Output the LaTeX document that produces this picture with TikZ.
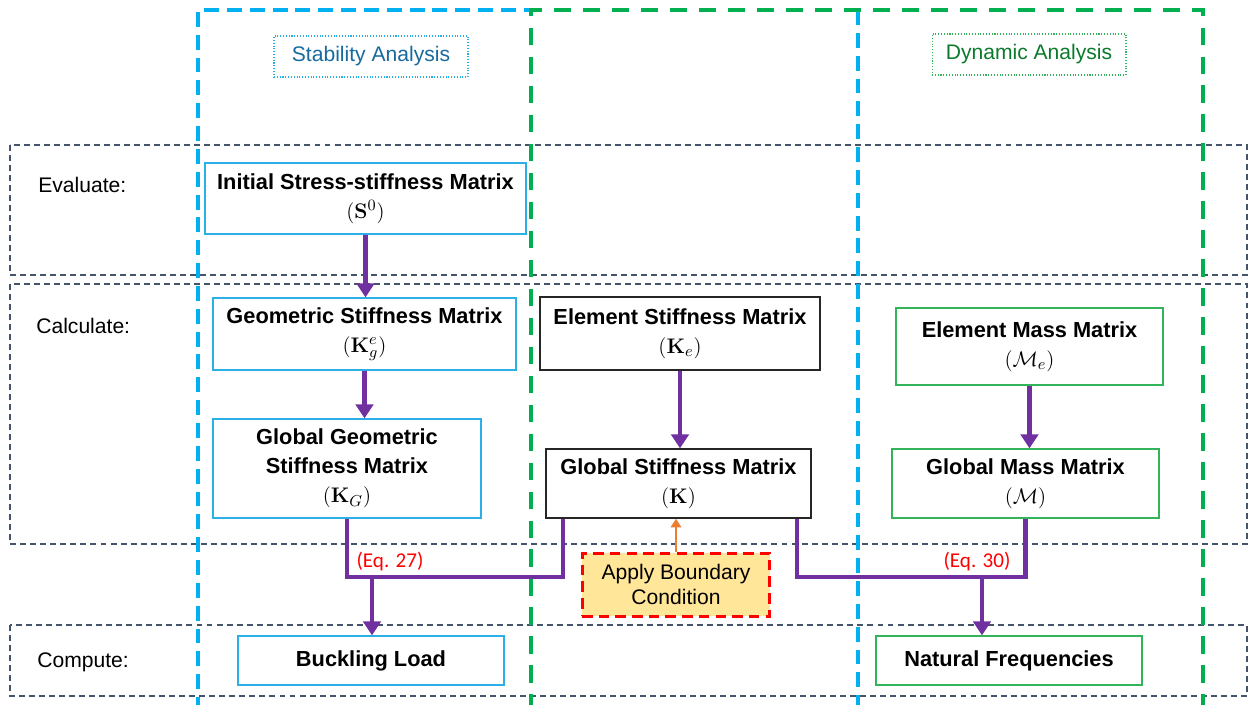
\documentclass[tikz,border=0pt]{standalone}
\usepackage[no-math]{fontspec}
\setmainfont{Liberation Sans}
\newfontfamily\eqfont{Carlito}
\usetikzlibrary{arrows.meta,calc}
\definecolor{bigblue}{HTML}{00B0F0}
\definecolor{biggreen}{HTML}{00B050}
\definecolor{nodeblue}{HTML}{2AB0E6}
\definecolor{nodegreen}{HTML}{33B35A}
\definecolor{purp}{HTML}{7030A0}
\definecolor{orng}{HTML}{ED7D31}
\definecolor{bandcol}{HTML}{44546A}
\definecolor{goldfill}{HTML}{FFE699}
\definecolor{stabtext}{HTML}{166A9E}
\definecolor{dyntext}{HTML}{0B7A2B}
\tikzset{
  txt/.style={font=\fontsize{12}{14.5}\selectfont},
  mtxt/.style={font=\fontsize{12.4}{16.5}\selectfont},
  mbox/.style={draw, line width=0.8pt, fill=white, inner sep=0pt, align=center, mtxt},
  bluebox/.style={mbox, draw=nodeblue},
  greenbox/.style={mbox, draw=nodegreen},
  blackbox/.style={mbox, draw=black!85},
  band/.style={draw=bandcol, line width=0.75pt, dash pattern=on 3.4pt off 2.3pt},
  bigbluerect/.style={draw=bigblue, line width=2.3pt, dash pattern=on 8.5pt off 4.5pt},
  biggreenrect/.style={draw=biggreen, line width=2.3pt, dash pattern=on 10pt off 6.5pt},
  pline/.style={draw=purp, line width=2.8pt, line join=miter},
  parrow/.style={draw=purp, line width=2.8pt, -{Triangle[length=8pt,width=10pt]}},
  oarrow/.style={draw=orng, line width=1.6pt, -{Triangle[length=5pt,width=6pt]}},
  rowlbl/.style={txt, anchor=west, inner sep=0pt},
  eqlbl/.style={font=\eqfont\fontsize{12}{14}\selectfont, text=red, inner sep=0pt},
}
\begin{document}
\begin{tikzpicture}[x=0.02cm, y=-0.02cm]
\useasboundingbox (0,0) rectangle (1250,704);
% row bands
\draw[band] (10,145) rectangle (1247,275);
\draw[band] (10,284) rectangle (1247,544);
\draw[band] (10,625) rectangle (1247,696);
% big analysis frames
\draw[bigbluerect] (198,712) -- (198,10) -- (531,10);
\draw[bigbluerect] (858,10) -- (858,712);
\draw[biggreenrect] (531,712) -- (531,10) -- (1203,10) -- (1203,712);
% titles
\node[draw=nodeblue, line width=0.6pt, densely dotted, minimum width=3.88cm, minimum height=0.82cm, inner sep=0pt, txt, text=stabtext] (stab) at (371,56.5) {Stability Analysis};
\node[draw=nodegreen, line width=0.6pt, densely dotted, minimum width=3.88cm, minimum height=0.82cm, inner sep=0pt, txt, text=dyntext] (dyn) at (1029,54.5) {Dynamic Analysis};
% row labels
\node[rowlbl] (ev) at (38,185) {Evaluate:};
\node[rowlbl] (calc) at (36,326) {Calculate:};
\node[rowlbl] (comp) at (37,662) {Compute:};
% nodes
\node[bluebox, minimum width=6.42cm, minimum height=1.42cm] (init) at (365.5,198.5) {\textbf{Initial Stress-stiffness Matrix}\\ $(\mathbf{S}^0)$};
\node[bluebox, minimum width=6.06cm, minimum height=1.44cm] (geo) at (364.5,334) {\textbf{Geometric Stiffness Matrix}\\ $(\mathbf{K}_g^e)$};
\node[bluebox, minimum width=5.36cm, minimum height=1.98cm] (gg) at (347,468.5) {\textbf{Global Geometric}\\ \textbf{Stiffness Matrix}\\ $(\mathbf{K}_G)$};
\node[bluebox, minimum width=5.32cm, minimum height=0.98cm] (buck) at (371,660.5) {\textbf{Buckling Load}};
\node[blackbox, minimum width=5.6cm, minimum height=1.46cm] (es) at (680,333.5) {\textbf{Element Stiffness Matrix}\\ $(\mathbf{K}_e)$};
\node[blackbox, minimum width=5.3cm, minimum height=1.38cm] (gs) at (678.5,483.5) {\textbf{Global Stiffness Matrix}\\ $(\mathbf{K})$};
\node[greenbox, minimum width=5.34cm, minimum height=1.54cm] (em) at (1029.5,346.5) {\textbf{Element Mass Matrix}\\ $(\mathcal{M}_e)$};
\node[greenbox, minimum width=5.34cm, minimum height=1.38cm] (gm) at (1025.5,483.5) {\textbf{Global Mass Matrix}\\ $(\mathcal{M})$};
\node[greenbox, minimum width=5.32cm, minimum height=0.98cm] (nf) at (1009,660.5) {\textbf{Natural Frequencies}};
\node[draw=red, fill=goldfill, line width=1.7pt, dash pattern=on 6pt off 3.5pt, minimum width=3.76cm, minimum height=1.26cm, inner sep=0pt, align=center, txt] (abc) at (676,584.5) {Apply Boundary\\ Condition};
% junction coordinates
\coordinate (jl) at (372,577);
\coordinate (jr) at (563,577);
\coordinate (kl) at (797,577);
\coordinate (kn) at (982,577);
% connectors
\draw[parrow] (init.south) -- (init.south |- geo.north);
\draw[parrow] (geo.south) -- (geo.south |- gg.north);
\draw[parrow] (es.south) -- (es.south |- gs.north);
\draw[parrow] (em.south) -- (em.south |- gm.north);
\draw[pline] (gg.south) |- (jr) -- (jr |- gs.south);
\draw[parrow] (jl) -- (jl |- buck.north);
\draw[pline] (kl |- gs.south) -- (kl) -| (gm.south);
\draw[parrow] (kn) -- (kn |- nf.north);
\draw[oarrow] (abc.north) -- (abc.north |- gs.south);
% equation labels
\node[eqlbl] (eq27) at (390,561) {(Eq. 27)};
\node[eqlbl] (eq30) at (977,561) {(Eq. 30)};
\end{tikzpicture}
\end{document}
